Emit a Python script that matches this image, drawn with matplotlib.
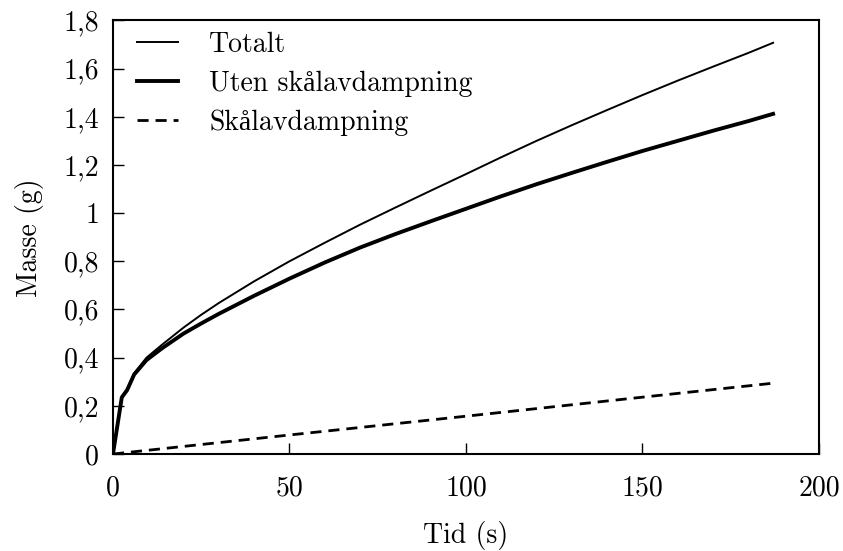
import matplotlib
matplotlib.use("Agg", force=True)
import matplotlib.pyplot as plt
import numpy as np

plt.rcParams['font.family'] = ['cmr10', 'Liberation Serif']
plt.rcParams['mathtext.fontset'] = 'cm'
plt.rcParams['axes.formatter.use_mathtext'] = True

# data
t_tot = [0, 2.5, 4, 6, 9.5, 14, 20, 25, 30, 40, 50, 60, 70, 80, 90, 100,
         110, 120, 130, 140, 150, 160, 170, 180, 187]
m_tot = [0, 0.238, 0.27, 0.335, 0.40, 0.455, 0.525, 0.578, 0.627, 0.717, 0.80, 0.877,
         0.952, 1.023, 1.093, 1.162, 1.232, 1.30, 1.365, 1.428, 1.49, 1.55, 1.608, 1.665, 1.707]
t_uten = [0, 2.5, 4, 6, 9.5, 14, 20, 25, 30, 40, 50, 60, 70, 80, 90, 100,
          110, 120, 130, 140, 150, 160, 170, 180, 187]
m_uten = [0, 0.235, 0.265, 0.33, 0.39, 0.44, 0.50, 0.542, 0.582, 0.657, 0.728, 0.795,
          0.857, 0.913, 0.966, 1.018, 1.07, 1.12, 1.167, 1.213, 1.258, 1.30, 1.342, 1.382, 1.412]
t_skal = [0, 50, 100, 150, 187]
m_skal = [0, 0.079, 0.157, 0.236, 0.294]

xticks = [0, 50, 100, 150, 200]
yticks = [0, 0.2, 0.4, 0.6, 0.8, 1.0, 1.2, 1.4, 1.6, 1.8]
ylabels = ['0', '0,2', '0,4', '0,6', '0,8', '1', '1,2', '1,4', '1,6', '1,8']

fig = plt.figure(figsize=(8.43, 5.51), dpi=100)
ax = fig.add_axes([0.134, 0.176, 0.8375, 0.787])

ax.plot(t_tot, m_tot, color='black', linewidth=1.4, label='Totalt')
ax.plot(t_uten, m_uten, color='black', linewidth=2.8, label='Uten skålavdampning')
ax.plot(t_skal, m_skal, color='black', linewidth=2.0, linestyle=(0, (4, 2.5)),
        label='Skålavdampning')

ax.set_xlim(0, 200)
ax.set_ylim(0, 1.8)
ax.set_xticks(xticks)
ax.set_xticklabels([str(v) for v in xticks])
ax.set_yticks(yticks)
ax.set_yticklabels(ylabels)
ax.tick_params(direction='in', length=8, width=1, labelsize=20, pad=15)
ax.tick_params(axis='y', pad=10)
for s in ax.spines.values():
    s.set_linewidth(1.5)

ax.set_xlabel('Tid (s)', fontsize=20, labelpad=14)
ax.set_ylabel('Masse (g)', fontsize=20, labelpad=14)

ax.legend(loc='upper left', frameon=False, fontsize=20, handlelength=1.5,
          handletextpad=1.1, labelspacing=0.45, borderaxespad=0.0,
          bbox_to_anchor=(0.018, 1.0))

fig.savefig('out.png', dpi=100)
